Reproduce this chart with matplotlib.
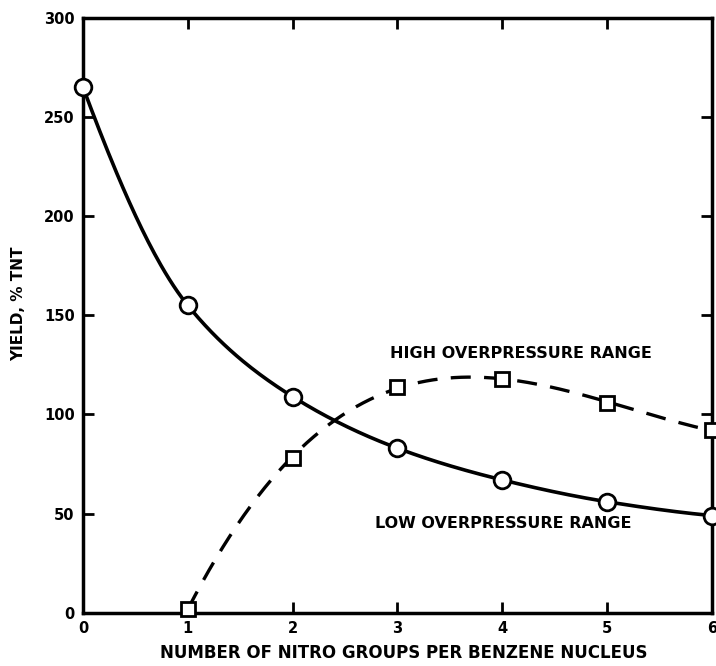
import numpy as np
import matplotlib
matplotlib.use("Agg")
import matplotlib.pyplot as plt

# Yield of nitrated benzenes relative to TNT
nitro_groups_low = [0, 1, 2, 3, 4, 5, 6]
yield_low = [265, 155, 109, 83, 67, 56, 49]

nitro_groups_high = [1, 2, 3, 4, 5, 6]
yield_high = [2, 78, 114, 118, 106, 92]

x_ticks = [0, 1, 2, 3, 4, 5, 6]
y_ticks = [0, 50, 100, 150, 200, 250, 300]


def pchip(x, y, xs):
    """Shape-preserving piecewise cubic through the points."""
    x = np.asarray(x, float)
    y = np.asarray(y, float)
    h = np.diff(x)
    d = np.diff(y) / h
    m = np.zeros_like(y)
    for k in range(1, len(x) - 1):
        if d[k - 1] * d[k] > 0:
            w1 = 2 * h[k] + h[k - 1]
            w2 = h[k] + 2 * h[k - 1]
            m[k] = (w1 + w2) / (w1 / d[k - 1] + w2 / d[k])
    m[0] = ((2 * h[0] + h[1]) * d[0] - h[0] * d[1]) / (h[0] + h[1])
    m[-1] = ((2 * h[-1] + h[-2]) * d[-1] - h[-1] * d[-2]) / (h[-1] + h[-2])
    idx = np.clip(np.searchsorted(x, xs) - 1, 0, len(x) - 2)
    t = (xs - x[idx]) / h[idx]
    h00 = 2 * t**3 - 3 * t**2 + 1
    h10 = t**3 - 2 * t**2 + t
    h01 = -2 * t**3 + 3 * t**2
    h11 = t**3 - t**2
    return (h00 * y[idx] + h10 * h[idx] * m[idx]
            + h01 * y[idx + 1] + h11 * h[idx] * m[idx + 1])


fig = plt.figure(figsize=(7.16, 6.66), dpi=100)
ax = fig.add_axes([0.116, 0.08, 0.878, 0.893])

# Smooth trend curves
xs_low = np.linspace(0, 6, 300)
ax.plot(xs_low, pchip(nitro_groups_low, yield_low, xs_low),
        color="black", lw=2.6, solid_capstyle="round", zorder=2)

coef = np.polyfit(nitro_groups_high, yield_high, 3)
xs_high = np.linspace(1, 6, 300)
ax.plot(xs_high, np.polyval(coef, xs_high), color="black", lw=2.4,
        dashes=(6, 4), zorder=2)

# Measured points
ax.plot(nitro_groups_low, yield_low, "o", ms=12, mfc="white", mec="black",
        mew=2, zorder=3, clip_on=False)
ax.plot(nitro_groups_high, yield_high, "s", ms=10, mfc="white", mec="black",
        mew=2, zorder=3, clip_on=False)

ax.set_xlim(0, 6)
ax.set_ylim(0, 300)
ax.set_xticks(x_ticks)
ax.set_yticks(y_ticks)
ax.set_xticklabels([str(v) for v in x_ticks])
ax.set_yticklabels([str(v) for v in y_ticks])

for s in ax.spines.values():
    s.set_linewidth(2.5)
ax.tick_params(direction="in", length=8, width=2, top=True, right=True,
               labelsize=10.5, pad=6)
for lbl in ax.get_xticklabels() + ax.get_yticklabels():
    lbl.set_fontweight("bold")

ax.set_xlabel("NUMBER OF NITRO GROUPS PER BENZENE NUCLEUS", fontsize=12,
              fontweight="bold")
ax.xaxis.set_label_coords(0.51, -0.052)
ax.set_ylabel("YIELD, % TNT", fontsize=11, fontweight="bold")
ax.yaxis.set_label_coords(-0.09, 0.52)

ax.text(4.18, 131, "HIGH OVERPRESSURE RANGE", fontsize=11.5,
        ha="center", va="center", fontweight="bold")
ax.text(4.01, 45, "LOW OVERPRESSURE RANGE", fontsize=11.5,
        ha="center", va="center", fontweight="bold")

fig.savefig("out.png", dpi=100, facecolor="white")
